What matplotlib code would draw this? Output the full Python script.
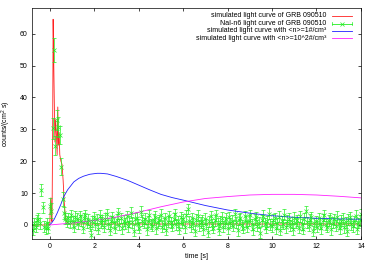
import matplotlib

matplotlib.use("Agg")

import matplotlib.pyplot as plt
import numpy as np

plt.rcParams["font.family"] = ["Liberation Sans", "DejaVu Sans"]
plt.rcParams["font.size"] = 5
plt.rcParams["mathtext.default"] = "regular"

# simulated light curve of GRB 090510 (red)
sim_t = [-0.8, 0.0, 0.02, 0.05, 0.08, 0.1, 0.13, 0.15, 0.17, 0.2, 0.23, 0.26, 0.3, 0.33,
         0.36, 0.39, 0.42, 0.45, 0.5, 0.55, 0.6, 0.65, 0.7, 0.75, 0.8, 0.9, 1.0, 14.0]
sim_v = [0.0, 0.0, 5.0, 8.5, 2.0, 1.0, 30.0, 64.5, 55.0, 40.0, 26.0, 33.0, 28.0, 22.0,
         37.0, 25.0, 29.0, 22.0, 20.0, 19.0, 14.0, 7.0, 3.0, 1.0, 0.5, 0.3, 0.3, 0.3]

# NaI-n6 light curve, 64 ms bins starting at -0.768 s (green)
nai_t0 = -0.768
nai_dt = 0.064
nai_counts = [
    -1.5, 0.5, -0.5, 1.5, 2.0, 0.5, 11.0, 5.5, -0.5, -1.0, 0.5, -0.8,
    6.0, 4.5, 30.3, 54.8, 24.8, 33.0, 30.8, 28.3, 18.3, 8.0, 3.7, 2.0, 1.0,
    2.1, 0.8, 3.0, 1.2, -0.5, 2.6, 1.9, 0.3, 2.8, 1.4, -0.9, 2.2, 3.1, 0.6, 1.7, -0.2,
    -3.0, 1.1, 2.4, 0.2, 1.8, -1.2, 2.9, 0.7, 1.5, -0.6, 2.0, 3.3, 0.4, -1.5, 1.2, 2.5,
    0.9, -0.8, 1.6, 3.6, 0.1, 2.2, -1.1, 1.4, 0.5, 2.7, -0.4, 1.0, 3.9, 0.8, -1.8, 1.9,
    2.3, 0.2, -0.9, 4.2, 1.3, 0.6, 2.0, -1.4, 1.1, 3.0, 0.3, -0.2, 1.7, 2.6, -1.0, 0.9,
    1.5, 3.2, -0.5, 0.4, 2.1, -1.6, 1.0, 2.8, 0.7, -0.3, 1.9, 3.4, 0.2, 1.2, -1.2, 2.4,
    0.6, 1.8, -0.7, 3.0, 5.0, 1.1, -0.4, 2.2, 0.5, -1.9, 1.6, 2.9, -0.1, 0.8, 1.4, -1.3,
    2.0, 0.3, -2.2, 1.2, 2.7, 0.1, -0.9, 1.5, 3.1, 0.4, -1.5, 1.0, 2.3, -0.6, 0.7, 1.9,
    -1.1, 2.5, 0.6, 1.3, -0.3, 3.3, 0.9, -1.7, 1.6, 2.1, 0.0, -0.8, 2.8, 1.1, -0.5, 1.4,
    3.0, 0.2, -1.3, 1.8, 2.4, -0.2, 0.7, -2.4, 1.5, 2.9, 0.4, -0.9, 1.2, 3.5, 0.1, -0.4,
    1.7, 2.2, -1.0, 0.5, 2.6, -1.6, 1.1, 0.3, 3.2, -0.7, 1.4, 2.0, -0.2, 0.9, -1.4, 2.3,
    0.6, 1.5, -0.8, 2.7, 0.2, -1.2, 1.9, 4.3, 0.8, -0.3, 1.6, 2.4, -1.9, 0.5, 1.2, -0.6,
    2.1, 0.4, -1.0, 1.7, 3.0, 0.1, -0.5, 1.3, 2.2, -1.4, 0.7, 1.8, -0.2, 2.6, 0.3, -1.1,
    1.4, 2.0, -0.7, 0.9, -1.8, 1.6, 2.4, 0.2, -0.4, 1.1, 2.9, -1.2, 0.6, 1.5, 3.4,
]
nai_err_bg = 1.7
nai_err_pre = [1.7, 1.7, 1.7, 1.7, 1.7, 1.7, 2.0, 1.8, 1.7, 1.7, 1.7, 1.7]
nai_err_spike = [2.5, 2.3, 3.2, 3.7, 3.0, 3.2, 3.2, 2.8, 2.6, 2.2, 1.9, 1.8, 1.7]

# simulated light curve with <n>=1#/cm^3 (blue)
n1_t = [0.0, 0.1, 0.2, 0.33, 0.5, 0.63, 0.8, 1.08, 1.3, 1.52, 1.8, 2.13, 2.3, 2.6, 3.0,
        3.5, 4.0, 4.5, 5.0, 5.5, 6.0, 7.0, 8.0, 9.0, 10.0, 11.0, 12.0, 13.0, 14.0]
n1_v = [0.0, 0.8, 1.8, 3.7, 6.5, 8.9, 11.0, 13.5, 14.6, 15.3, 15.9, 16.2, 16.2, 16.0, 15.2,
        14.0, 12.5, 11.0, 9.6, 8.6, 7.8, 6.1, 4.7, 3.7, 2.9, 2.4, 2.1, 1.9, 1.8]

# simulated light curve with <n>=10^2#/cm^3 (magenta)
n100_t = [0.0, 0.5, 1.0, 2.0, 3.0, 4.0, 5.0, 6.0, 7.0, 8.0, 9.0, 10.0, 11.0, 12.0, 13.0, 14.0]
n100_v = [0.0, 0.3, 0.6, 1.4, 2.5, 4.0, 5.7, 7.2, 8.3, 8.9, 9.4, 9.6, 9.6, 9.4, 9.0, 8.5]

labels = [
    "simulated light curve of GRB 090510",
    "NaI-n6 light curve of GRB 090510",
    "simulated light curve with <n>=1#/cm\u00b3",
    "simulated light curve with <n>=10^2#/cm\u00b3",
]
RED = "#ff2020"
GREEN = "#22ee22"
BLUE = "#2020ff"
MAGENTA = "#ff20ff"

nai_t = nai_t0 + nai_dt * np.arange(len(nai_counts))
nai_err = nai_err_pre + nai_err_spike + [nai_err_bg] * (len(nai_counts) - 25)

fig = plt.figure(figsize=(3.74, 2.62), dpi=100)
ax = fig.add_axes([0.0856, 0.089, 0.8794, 0.880])

ax.plot(sim_t, sim_v, color=RED, lw=0.6)
ax.errorbar(nai_t, nai_counts, yerr=nai_err, fmt="x", color=GREEN, ms=2.2, mew=0.5,
            elinewidth=0.5, capsize=1.2, capthick=0.5)
ax.plot(n1_t, n1_v, color=BLUE, lw=0.6)
ax.plot(n100_t, n100_v, color=MAGENTA, lw=0.6)

ax.set_xlim(-0.8, 14)
ax.set_ylim(-4.3, 68)
ax.set_xticks(np.arange(0, 15, 2))
ax.set_yticks(np.arange(0, 61, 10))
ax.tick_params(direction="in", length=2.5, width=0.5, top=True, right=True, pad=3, labelsize=5)
for s in ax.spines.values():
    s.set_linewidth(0.5)
ax.set_xlabel("time [s]", labelpad=2)
ax.set_ylabel("counts/(cm$^2$ s)", labelpad=5)

# gnuplot-style key: right-aligned text, sample to the right
key_y = [0.966, 0.933, 0.901, 0.870]
x_txt, x0, x1 = 0.896, 0.911, 0.972
colors = [RED, GREEN, BLUE, MAGENTA]
for lab, y, c in zip(labels, key_y, colors):
    ax.text(x_txt, y, lab, transform=ax.transAxes, ha="right", va="center", fontsize=5)
    ax.plot([x0, x1], [y, y], color=c, lw=0.6, transform=ax.transAxes, clip_on=False)
ax.plot([x0, x0], [key_y[1] - 0.008, key_y[1] + 0.008], color=GREEN, lw=0.5, transform=ax.transAxes)
ax.plot([x1, x1], [key_y[1] - 0.008, key_y[1] + 0.008], color=GREEN, lw=0.5, transform=ax.transAxes)
ax.plot([(x0 + x1) / 2], [key_y[1]], "x", color=GREEN, ms=2.2, mew=0.5, transform=ax.transAxes)

fig.savefig("out.png", dpi=100)
